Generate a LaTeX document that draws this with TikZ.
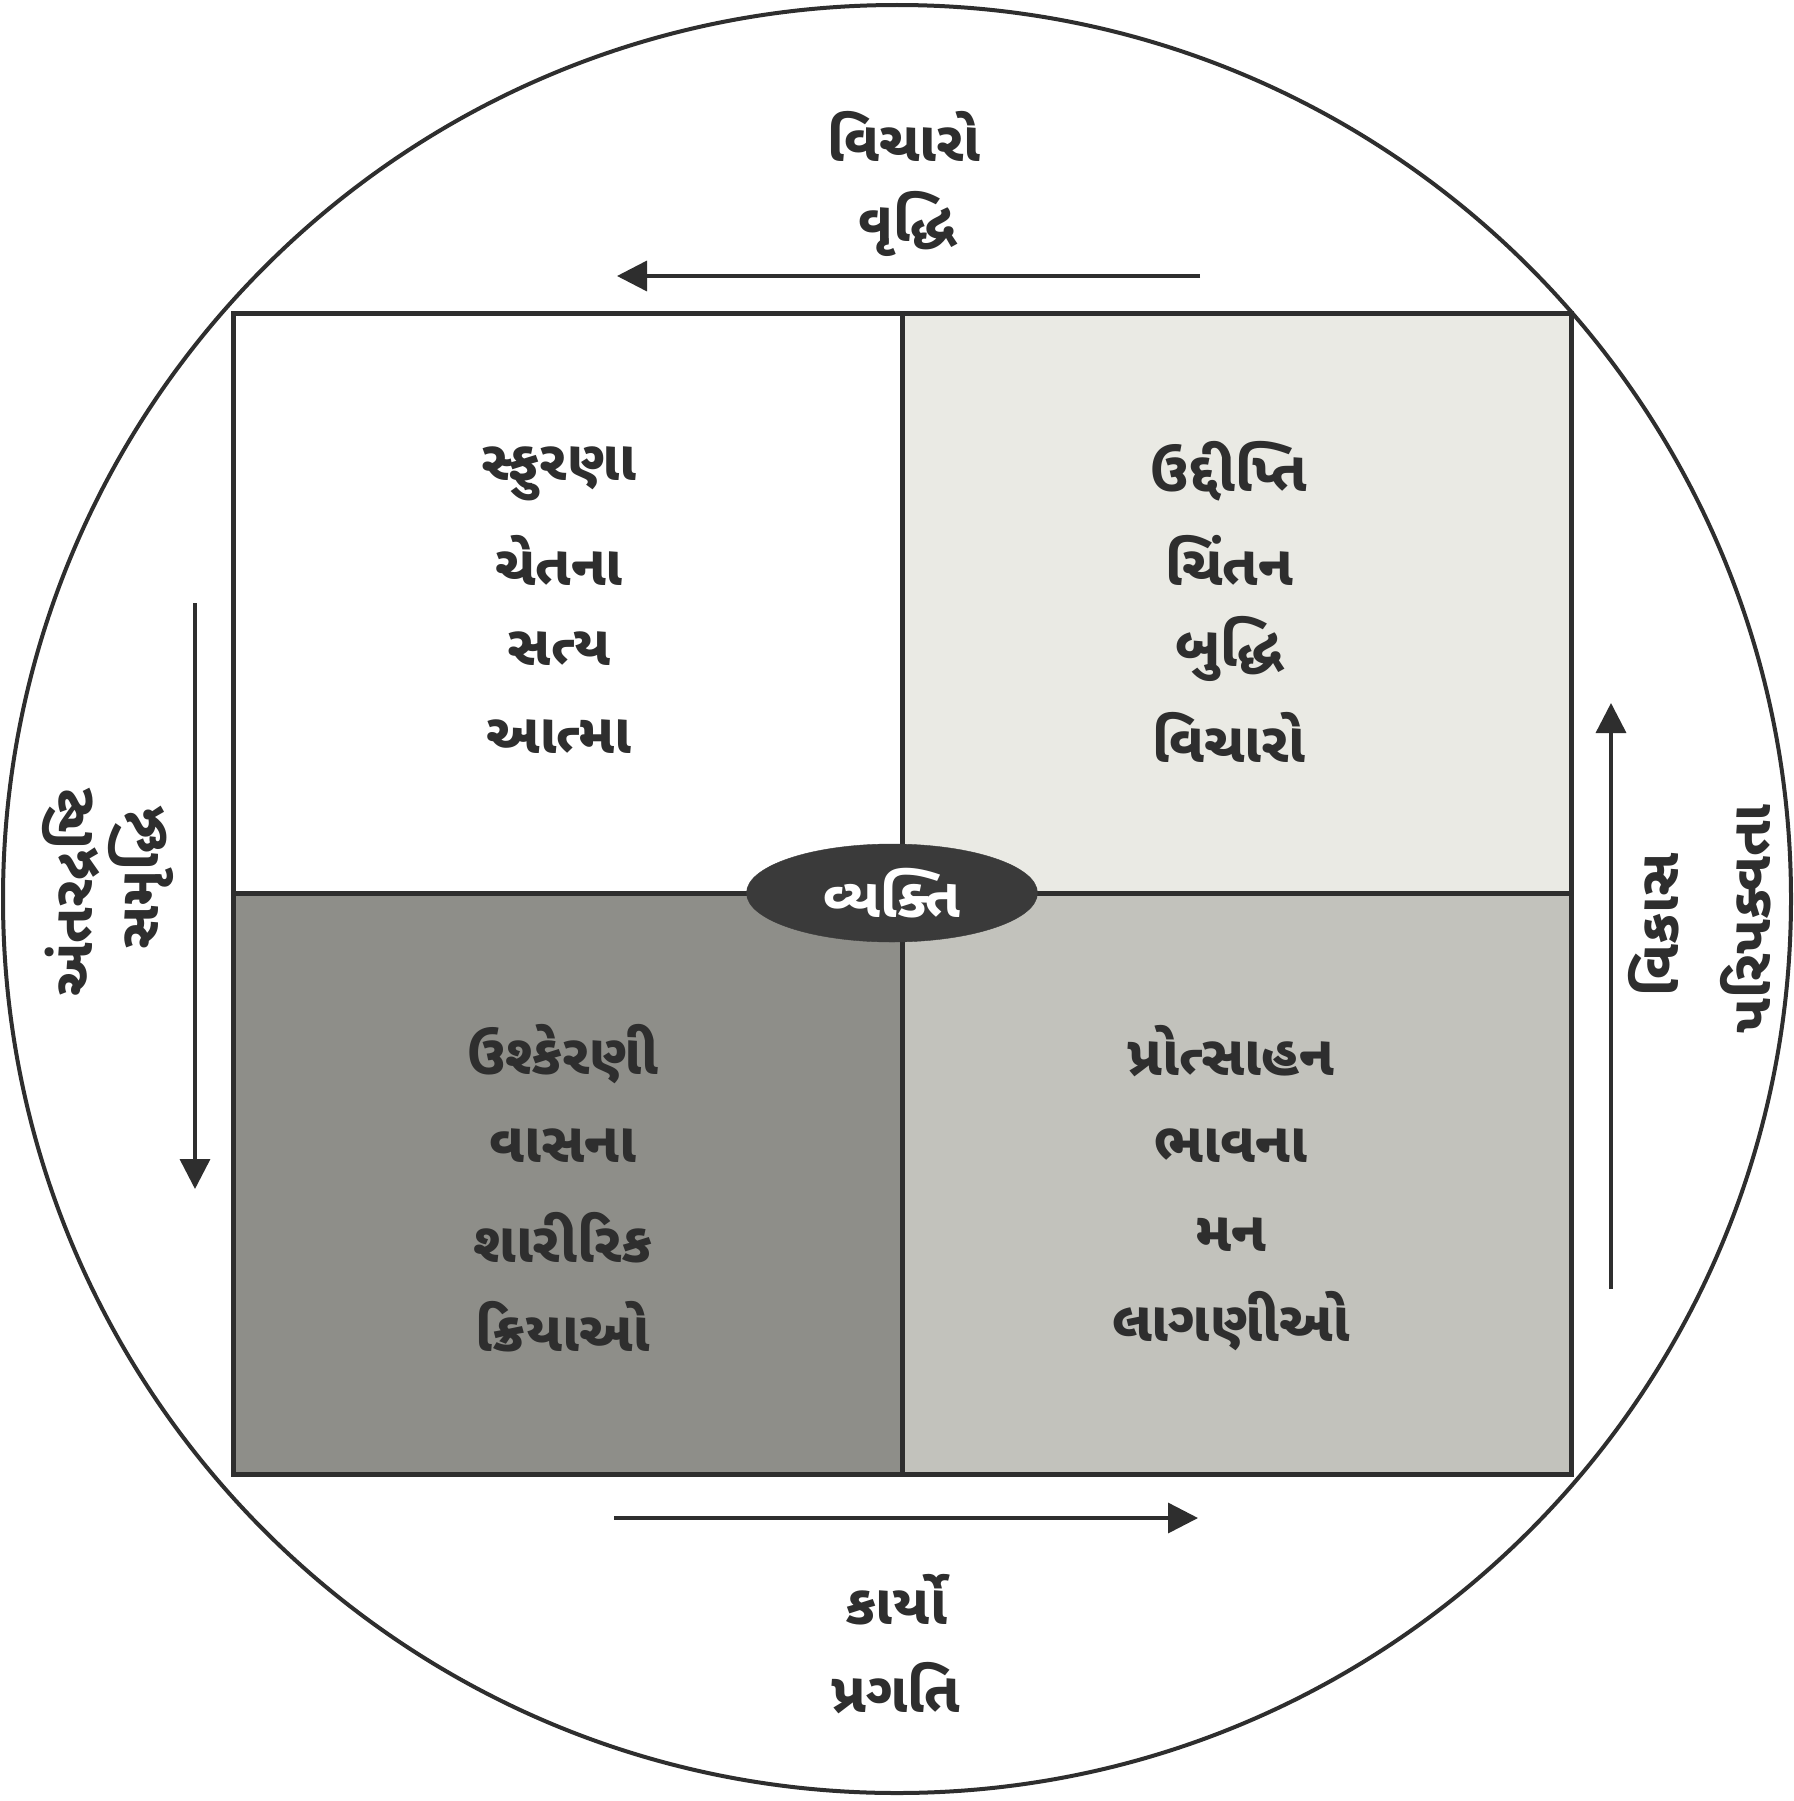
\documentclass[tikz,border=0pt]{standalone}
\usepackage{fontspec}
\newfontfamily\guj[Script=Gujarati]{Noto Sans Gujarati UI}
\usetikzlibrary{arrows.meta,shapes.geometric}
\definecolor{ink}{HTML}{2E2E2E}
\definecolor{qtr}{HTML}{EAEAE4}
\definecolor{qbr}{HTML}{C2C2BC}
\definecolor{qbl}{HTML}{8E8E89}
\definecolor{ovalc}{HTML}{3A3A3A}
\tikzset{
  lbl/.style={font=\guj\bfseries\fontsize{56}{66}\selectfont, text=ink, inner sep=0pt},
  qlbl/.style={lbl, align=center},
  arr/.style={draw=ink, line width=3.5pt, -{Triangle[length=30pt,width=30pt]}},
  box/.style={draw=ink, line width=5pt},
}
\begin{document}
\begin{tikzpicture}[x=1pt,y=-1pt]
\useasboundingbox (0,0) rectangle (1793,1801);
\fill[white] (0,0) rectangle (1793,1801);
% quadrants
\fill[qtr] (902,313) rectangle (1571,893);
\fill[qbr] (902,893) rectangle (1571,1474);
\fill[qbl] (233,893) rectangle (902,1474);
\draw[box] (233,313) rectangle (1571,1474);
\draw[box] (902,313) -- (902,1474);
\draw[box] (233,893) -- (1571,893);
% circle
\node[draw=ink, line width=4pt, circle, minimum size=1788pt, inner sep=0pt] (circ) at (897,899) {};
% centre oval
\node[ellipse, fill=ovalc, draw=ovalc, minimum width=291pt, minimum height=98pt, inner sep=0pt,
      font=\guj\bfseries\fontsize{55}{66}\selectfont, text=white] (vyakti) at (892,893) {વ્યક્તિ};
% quadrant texts
\node[qlbl] (tl1) at (559,474) {સ્ફુરણા};
\node[qlbl] (tl2) at (559,560) {ચેતના};
\node[qlbl] (tl3) at (559,649) {સત્ય};
\node[qlbl] (tl4) at (559,737) {આત્મા};
\node[qlbl] (tr1) at (1229,471) {ઉદ્દીપ્તિ};
\node[qlbl] (tr2) at (1229,560) {ચિંતન};
\node[qlbl] (tr3) at (1229,649) {બુદ્ધિ};
\node[qlbl] (tr4) at (1229,737) {વિચારો};
\node[qlbl] (bl1) at (563,1054) {ઉશ્કેરણી};
\node[qlbl] (bl2) at (563,1146) {વાસના};
\node[qlbl] (bl3) at (563,1238) {શારીરિક};
\node[qlbl] (bl4) at (563,1327) {ક્રિયાઓ};
\node[qlbl] (br1) at (1231,1051) {પ્રોત્સાહન};
\node[qlbl] (br2) at (1231,1146) {ભાવના};
\node[qlbl] (br3) at (1231,1235) {મન};
\node[qlbl] (br4) at (1231,1321) {લાગણીઓ};
% outer labels
\node[lbl] (top1) at (904,136) {વિચારો};
\node[lbl] (top2) at (907,224) {વૃદ્ધિ};
\node[lbl] (bot1) at (896,1600) {કાર્યો};
\node[lbl] (bot2) at (896,1688) {પ્રગતિ};
\node[lbl, rotate=90] (lft1) at (71,893) {અંતરદ્રષ્ટિ};
\node[lbl, rotate=90] (lft2) at (141,879) {સમૃદ્ધિ};
\node[lbl, rotate=90] (rgt1) at (1654,925) {વિકાસ};
\node[lbl, rotate=90] (rgt2) at (1746,919) {પરિપક્વતા};
% arrows
\coordinate (ta) at (1200,276); \coordinate (tb) at (617,276);
\coordinate (ba) at (614,1518); \coordinate (bb) at (1198,1518);
\coordinate (la) at (195,603); \coordinate (lb) at (195,1189);
\coordinate (ra) at (1611,1289); \coordinate (rb) at (1611,703);
\draw[arr] (ta) -- (tb);
\draw[arr] (ba) -- (bb);
\draw[arr] (la) -- (lb);
\draw[arr] (ra) -- (rb);
\end{tikzpicture}
\end{document}
